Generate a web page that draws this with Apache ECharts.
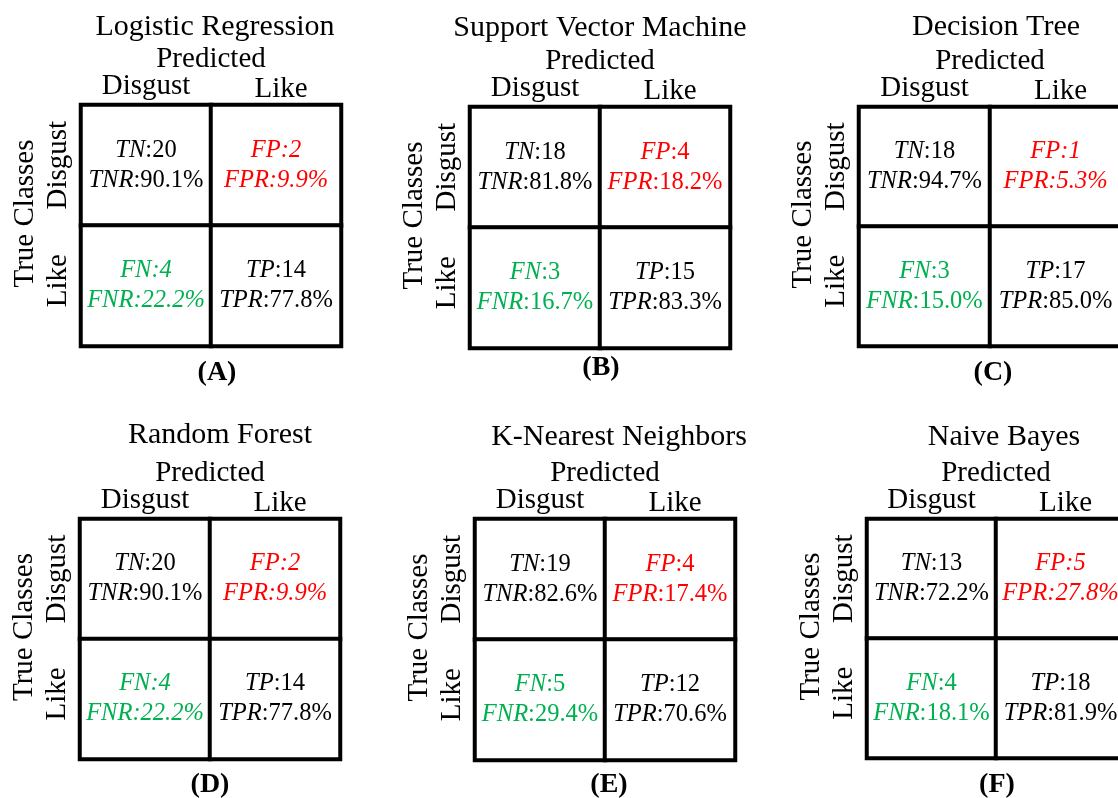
<!DOCTYPE html>
<html><head><meta charset="utf-8">
<script src="https://cdn.jsdelivr.net/npm/echarts@6/dist/echarts.min.js"></script>
<style>html,body{margin:0;padding:0;background:#fff}#c{width:1118px;height:798px}</style>
</head><body><div id="c"></div>
<script>
// ---- data ----
const models = ['Logistic Regression','Support Vector Machine','Decision Tree','Random Forest','K-Nearest Neighbors','Naive Bayes'];
const panelTags = ['(A)','(B)','(C)','(D)','(E)','(F)'];
const classes = ['Disgust','Like'];
const predictedName = 'Predicted';
const trueName = 'True Classes';
const tn = [20,18,18,20,19,13];
const fp = [2,4,1,2,4,5];
const fn = [4,3,3,4,5,4];
const tp = [14,15,17,14,12,18];
const tnr = [90.1,81.8,94.7,90.1,82.6,72.2];
const fpr = [9.9,18.2,5.3,9.9,17.4,27.8];
const fnr = [22.2,16.7,15.0,22.2,29.4,18.1];
const tpr = [77.8,83.3,85.0,77.8,70.6,81.9];

// ---- layout / style ----
const FONT = 'Liberation Serif';
const grids = [
  {left:81, top:105, width:260, height:241},
  {left:470, top:107, width:260, height:241},
  {left:859, top:107, width:262, height:239},
  {left:80, top:519, width:260, height:240},
  {left:475, top:519, width:260, height:241},
  {left:867, top:519, width:258, height:239}
];
const titleAt = [[210,35],[595,36],[991,35],[215,443],[614,445],[999,445]];
const tagAt = [[212,380],[596,375],[988,380],[205,792],[604,792],[992,792]];
const italicNum = [[1,1],[0,0],[1,0],[1,1],[0,0],[1,0]]; // [FP, FN]
const tones = {k:'#000000', r:'#ff0000', g:'#00b050'};
const CELL_FS = 24.5, HEAD_FS = 29;

const rich = {};
Object.keys(tones).forEach(t => {
  rich[t+'it'] = {fontFamily:FONT, fontSize:CELL_FS, fontStyle:'italic', color:tones[t], lineHeight:30};
  rich[t+'n'] = {fontFamily:FONT, fontSize:CELL_FS, fontStyle:'normal', color:tones[t], lineHeight:30};
});

const option = {
  backgroundColor:'#fff',
  animation:false,
  title:[], grid:[], xAxis:[], yAxis:[], series:[],
  visualMap:{show:false, type:'continuous', min:0, max:100, seriesIndex:[0,1,2,3,4,5], inRange:{color:['#ffffff','#ffffff']}}
};

models.forEach((m, i) => {
  option.title.push({text:m, left:titleAt[i][0], top:titleAt[i][1]-28, textAlign:'center',
    textStyle:{fontFamily:FONT, fontSize:30, fontWeight:'normal', color:'#000'}});
  option.title.push({text:panelTags[i], left:tagAt[i][0], top:tagAt[i][1]-26, textAlign:'center',
    textStyle:{fontFamily:FONT, fontSize:28, fontWeight:'bold', color:'#000'}});
  option.grid.push(Object.assign({containLabel:false, outerBoundsMode:'none'}, grids[i]));
  option.xAxis.push({type:'category', gridIndex:i, data:classes, position:'top',
    name:predictedName, nameLocation:'middle', nameGap:34, nameMoveOverlap:false,
    nameTextStyle:{fontFamily:FONT, fontSize:HEAD_FS, color:'#000', lineHeight:23},
    axisLine:{show:false}, axisTick:{show:false}, splitLine:{show:false},
    axisLabel:{margin:11.5, lineHeight:14, fontFamily:FONT, fontSize:HEAD_FS, color:'#000', interval:0,
      formatter: v => v === classes[1] ? '{lk|' + v + '}' : v,
      rich:{lk:{fontFamily:FONT, fontSize:HEAD_FS, color:'#000', padding:[0,0,0,10], lineHeight:8}}}
  });
  option.yAxis.push({type:'category', gridIndex:i, data:classes, inverse:true,
    name:trueName, nameLocation:'middle', nameGap:41, nameRotate:90,
    nameTextStyle:{fontFamily:FONT, fontSize:HEAD_FS, color:'#000', padding:[0,0,0,24]},
    axisLine:{show:false}, axisTick:{show:false}, splitLine:{show:false},
    axisLabel:{margin:8, rotate:90, fontFamily:FONT, fontSize:HEAD_FS, color:'#000', interval:0,
      formatter: v => v === classes[1] ? '{lk|' + v + '}' : v,
      rich:{lk:{fontFamily:FONT, fontSize:HEAD_FS, color:'#000', padding:[0,0,0,10]}}}
  });
  const cells = [
    {value:[0,0,tn[i]], abbr:'TN', rAbbr:'TNR', rate:tnr[i], tone:'k', itn:0},
    {value:[1,0,fp[i]], abbr:'FP', rAbbr:'FPR', rate:fpr[i], tone:'r', itn:italicNum[i][0]},
    {value:[0,1,fn[i]], abbr:'FN', rAbbr:'FNR', rate:fnr[i], tone:'g', itn:italicNum[i][1]},
    {value:[1,1,tp[i]], abbr:'TP', rAbbr:'TPR', rate:tpr[i], tone:'k', itn:0}
  ];
  option.series.push({type:'heatmap', xAxisIndex:i, yAxisIndex:i, data:cells,
    itemStyle:{color:'#fff', borderColor:'#000', borderWidth:4},
    emphasis:{disabled:true},
    label:{show:true, lineHeight:30,
      formatter: p => {
        const d = p.data, t = d.tone, ns = d.itn ? t+'it' : t+'n';
        return '{'+t+'it|'+d.abbr+'}{'+ns+'|:'+d.value[2]+'}\n{'+t+'it|'+d.rAbbr+'}{'+ns+'|:'+d.rate.toFixed(1)+'%}';
      },
      rich:rich}
  });
});

const chart = echarts.init(document.getElementById('c'), null, {renderer:'canvas'});
chart.setOption(option);
</script>
</body></html>
